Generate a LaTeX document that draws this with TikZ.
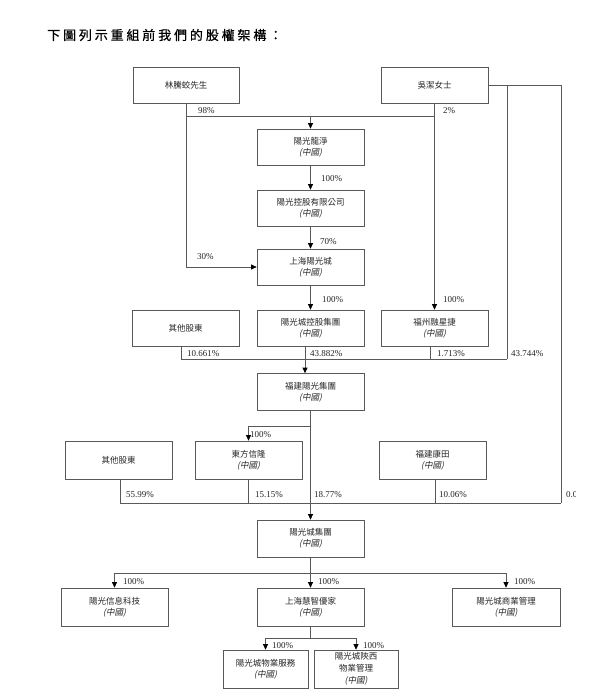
\documentclass[tikz,border=0pt]{standalone}
\usepackage{fontspec}
\setmainfont{Liberation Serif}
\newfontfamily\cjk{Noto Sans CJK TC}
\newfontfamily\cjkit{Noto Sans CJK TC}[FakeSlant=0.2]
\newfontfamily\cjktitle{Noto Sans CJK TC}[LetterSpace=22,FakeBold=0.6]
\usetikzlibrary{arrows.meta}
\definecolor{linec}{gray}{0.35}
\definecolor{txt}{gray}{0.15}
\newcommand\zgtag{{\cjkit(中國)}}
\begin{document}
\begin{tikzpicture}[x=1pt,y=-1pt,
  box/.style={draw=linec, line width=0.7pt, minimum width=107pt, minimum height=36pt,
    inner sep=1pt, align=center, text=txt, font=\cjk\fontsize{8.5}{11}\selectfont},
  pct/.style={font=\fontsize{9}{10}\selectfont, inner sep=0pt, anchor=west, text=txt},
  conn/.style={draw=linec, line width=0.7pt},
  arr/.style={conn, -{Triangle[length=5.5pt,width=5pt,color=black]}}]
\useasboundingbox[fill=white] (0,0) rectangle (600,696);

\node[anchor=west, inner sep=0pt, text=black, font=\cjktitle\fontsize{13}{13}\selectfont] (title) at (47,35) {下圖列示重組前我們的股權架構：};

% boxes
\node[box, minimum width=106pt] (lin) at (186,85) {林騰蛟先生};
\node[box] (wu) at (434.5,85) {吳潔女士};
\node[box] (lj) at (310.5,147) {陽光龍淨\\\zgtag};
\node[box] (kg) at (310.5,208) {陽光控股有限公司\\\zgtag};
\node[box] (shy) at (310.5,267) {上海陽光城\\\zgtag};
\node[box] (kgjt) at (310.5,328) {陽光城控股集團\\\zgtag};
\node[box] (qt1) at (185.5,328) {其他股東};
\node[box] (fz) at (434.5,328) {福州融星捷\\\zgtag};
\node[box, minimum height=37pt] (fjyg) at (310.5,392) {福建陽光集團\\\zgtag};
\node[box, minimum height=38pt] (qt2) at (118.5,460) {其他股東};
\node[box, minimum height=38pt] (dfxl) at (248.5,460) {東方信隆\\\zgtag};
\node[box, minimum height=38pt] (fjkt) at (432.5,460) {福建康田\\\zgtag};
\node[box, minimum height=37pt] (ygcjt) at (310.5,538.5) {陽光城集團\\\zgtag};
\node[box, minimum height=38pt] (xx) at (114.5,607) {陽光信息科技\\\zgtag};
\node[box, minimum height=38pt] (hz) at (310.5,607) {上海慧智優家\\\zgtag};
\node[box, minimum height=38pt, minimum width=108pt] (sy) at (506,607) {陽光城商業管理\\\zgtag};
\node[box, minimum height=38pt, minimum width=85pt] (wy) at (265.5,669) {陽光城物業服務\\\zgtag};
\node[box, minimum height=38pt, minimum width=84pt, font=\cjk\fontsize{8.5}{12}\selectfont] (sx) at (356,669) {陽光城陝西\\物業管理\\\zgtag};

% junction coordinates
\coordinate (j1) at (0,116);
\coordinate (wr1) at (507,359);
\coordinate (wr2) at (561,503);
\coordinate (j3) at (0,426);
\coordinate (j5) at (0,573);
\coordinate (j6) at (0,638);

% top
\draw[conn] (lin.south |- j1) -- (wu.south |- j1);
\draw[arr] (lin.south) |- (shy.west);
\draw[arr] (wu.south) -- (fz.north);
\draw[arr] (lj.north |- j1) -- (lj.north);
\draw[arr] (lj.south) -- (kg.north);
\draw[arr] (kg.south) -- (shy.north);
\draw[arr] (shy.south) -- (kgjt.north);

% right lines from Wu
\draw[conn] (wu.east) -| (wr2);
\draw[conn] (wu.east -| wr1) -- (wr1);

% junction into Fujian Yango
\draw[conn] ([xshift=-4.5pt]qt1.south) |- (wr1);
\draw[arr] ([xshift=-5.5pt]kgjt.south) -- ([xshift=-5.5pt]fjyg.north);
\draw[conn] ([xshift=-4.5pt]fz.south) -- ([xshift=-4.5pt]fz.south |- wr1);

% Fujian Yango down
\draw[arr] (fjyg.south) -- (ygcjt.north);
\draw[arr] (fjyg.south |- j3) -| (dfxl.north);

% junction into Yango Group
\draw[conn] ([xshift=1.5pt]qt2.south) |- (wr2);
\draw[conn] (dfxl.south) -- (dfxl.south |- wr2);
\draw[conn] ([xshift=2.5pt]fjkt.south) -- ([xshift=2.5pt]fjkt.south |- wr2);

% Yango Group subsidiaries
\draw[conn] (xx.north |- j5) -- (sy.north |- j5);
\draw[arr] (ygcjt.south) -- (hz.north);
\draw[arr] (xx.north |- j5) -- (xx.north);
\draw[arr] (sy.north |- j5) -- (sy.north);
\draw[conn] (hz.south) -- (hz.south |- j6);
\draw[arr] (hz.south |- j6) -| (wy.north);
\draw[arr] (hz.south |- j6) -| (sx.north);

% percentages
\node[pct] (p98) at (198,111) {98\%};
\node[pct] (p2) at (443,111) {2\%};
\node[pct] (p100a) at (321,179) {100\%};
\node[pct] (p70) at (320,242) {70\%};
\node[pct] (p30) at (197,257) {30\%};
\node[pct] (p100b) at (322,300) {100\%};
\node[pct] (p100c) at (443,300) {100\%};
\node[pct] (p10661) at (187,354) {10.661\%};
\node[pct] (p43882) at (310,354) {43.882\%};
\node[pct] (p1713) at (437,354) {1.713\%};
\node[pct] (p43744) at (511,354) {43.744\%};
\node[pct] (p100d) at (250,435) {100\%};
\node[pct] (p5599) at (126,495) {55.99\%};
\node[pct] (p1515) at (255,495) {15.15\%};
\node[pct] (p1877) at (314,495) {18.77\%};
\node[pct] (p1006) at (439,495) {10.06\%};
\begin{scope}
\clip (560,485) rectangle (575.5,505);
\node[pct] (p003) at (566,495) {0.03\%};
\end{scope}
\node[pct] (p100e) at (123,582) {100\%};
\node[pct] (p100f) at (318,582) {100\%};
\node[pct] (p100g) at (514,582) {100\%};
\node[pct] (p100h) at (272,646) {100\%};
\node[pct] (p100i) at (363,646) {100\%};
\end{tikzpicture}
\end{document}
